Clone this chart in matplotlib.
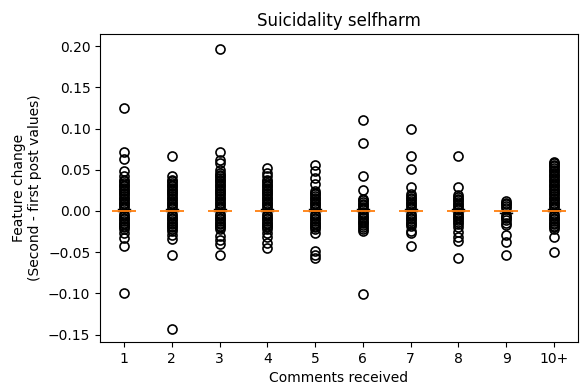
import matplotlib
matplotlib.use("Agg")
import matplotlib.pyplot as plt

labels = ['1', '2', '3', '4', '5', '6', '7', '8', '9', '10+']

# box stats (the boxes collapse to ~0)
medians = [0.0, 0.0, 0.0, 0.0, 0.0, 0.0, 0.0, 0.0, 0.0, 0.0]
whis_lo = [0.0, 0.0, 0.0, 0.0, 0.0, 0.0, 0.0, 0.0, -0.002, 0.0]
whis_hi = [0.002, 0.002, 0.002, 0.002, 0.002, 0.002, 0.002, 0.002, 0.0, 0.002]

# outliers per group
fl1 = [0.125, 0.072, 0.063, 0.048, 0.042, 0.038, 0.036, 0.034, 0.032, 0.030, 0.028, 0.026,
       0.024, 0.022, 0.020, 0.018, 0.016, 0.014, 0.012, 0.010, 0.008, 0.006, 0.004,
       -0.004, -0.006, -0.008, -0.010, -0.012, -0.014, -0.016, -0.018, -0.020, -0.022,
       -0.027, -0.033, -0.043, -0.100]
fl2 = [0.067, 0.042, 0.038, 0.036, 0.034, 0.032, 0.030, 0.028, 0.026, 0.024, 0.022, 0.020,
       0.018, 0.016, 0.014, 0.012, 0.010, 0.008, 0.006, 0.004, -0.004, -0.006, -0.008,
       -0.010, -0.012, -0.014, -0.016, -0.018, -0.020, -0.022, -0.024, -0.029, -0.034,
       -0.053, -0.143]
fl3 = [0.197, 0.072, 0.062, 0.058, 0.050, 0.046, 0.044, 0.042, 0.040, 0.038, 0.036, 0.034,
       0.032, 0.030, 0.028, 0.026, 0.024, 0.022, 0.020, 0.018, 0.016, 0.014, 0.012, 0.010,
       0.008, 0.006, 0.004, -0.004, -0.006, -0.008, -0.010, -0.012, -0.014, -0.016,
       -0.018, -0.020, -0.022, -0.030, -0.035, -0.040, -0.053]
fl4 = [0.052, 0.046, 0.042, 0.038, 0.036, 0.034, 0.032, 0.030, 0.028, 0.026, 0.024, 0.022,
       0.020, 0.018, 0.016, 0.014, 0.012, 0.010, 0.008, 0.006, 0.004, -0.004, -0.006,
       -0.008, -0.010, -0.012, -0.014, -0.016, -0.018, -0.020, -0.022, -0.027, -0.031,
       -0.039, -0.045]
fl5 = [0.056, 0.048, 0.040, 0.033, 0.024, 0.022, 0.020, 0.018, 0.016, 0.014, 0.012,
       0.010, 0.008, 0.006, 0.004, -0.004, -0.006, -0.008, -0.010, -0.012, -0.014,
       -0.016, -0.018, -0.020, -0.022, -0.027, -0.049, -0.053, -0.057]
fl6 = [0.111, 0.083, 0.043, 0.025, 0.015, 0.013, 0.011, 0.009, 0.007, 0.005, 0.003,
       -0.003, -0.005, -0.007, -0.009, -0.011, -0.013, -0.015, -0.017, -0.019, -0.022,
       -0.024, -0.101]
fl7 = [0.099, 0.067, 0.051, 0.029, 0.021, 0.018, 0.016, 0.014, 0.012, 0.010, 0.008,
       0.006, 0.004, -0.004, -0.006, -0.008, -0.010, -0.012, -0.014, -0.016, -0.018,
       -0.024, -0.027, -0.042]
fl8 = [0.067, 0.029, 0.019, 0.017, 0.015, 0.013, 0.011, 0.009, 0.007, 0.005, 0.003,
       -0.003, -0.005, -0.007, -0.009, -0.011, -0.013, -0.016, -0.020, -0.026, -0.031,
       -0.037, -0.057]
fl9 = [0.012, 0.010, 0.008, 0.006, 0.004, -0.005, -0.007, -0.009, -0.011, -0.014,
       -0.017, -0.029, -0.038, -0.054]
fl10 = [0.060, 0.058, 0.056, 0.054, 0.052, 0.050, 0.048, 0.046, 0.044, 0.042, 0.040,
        0.038, 0.036, 0.034, 0.032, 0.030, 0.028, 0.026, 0.024, 0.022, 0.020, 0.018,
        0.016, 0.014, 0.012, 0.010, 0.008, 0.006, 0.004, -0.004, -0.006, -0.008,
        -0.010, -0.012, -0.014, -0.016, -0.018, -0.020, -0.022, -0.031, -0.050]
fliers = [fl1, fl2, fl3, fl4, fl5, fl6, fl7, fl8, fl9, fl10]

stats = []
for i in range(len(labels)):
    stats.append({'med': medians[i], 'q1': medians[i], 'q3': medians[i],
                  'whislo': whis_lo[i], 'whishi': whis_hi[i], 'fliers': fliers[i],
                  'label': labels[i]})

fig = plt.figure(figsize=(5.82, 3.88), dpi=100)
ax = fig.add_axes([0.172, 0.119, 0.821, 0.793])
ax.bxp(stats, showbox=False,
       flierprops=dict(marker='o', markerfacecolor='none', markeredgecolor='black',
                       markersize=6.5, markeredgewidth=1.2),
       medianprops=dict(color='#ff7f0e', linewidth=1.3, zorder=5))
ax.set_ylim(-0.1588, 0.2146)
ax.set_title("Suicidality selfharm")
ax.set_xlabel("Comments received")
ax.set_ylabel("Feature change\n(Second - first post values)")
fig.savefig("out.png", dpi=100)
